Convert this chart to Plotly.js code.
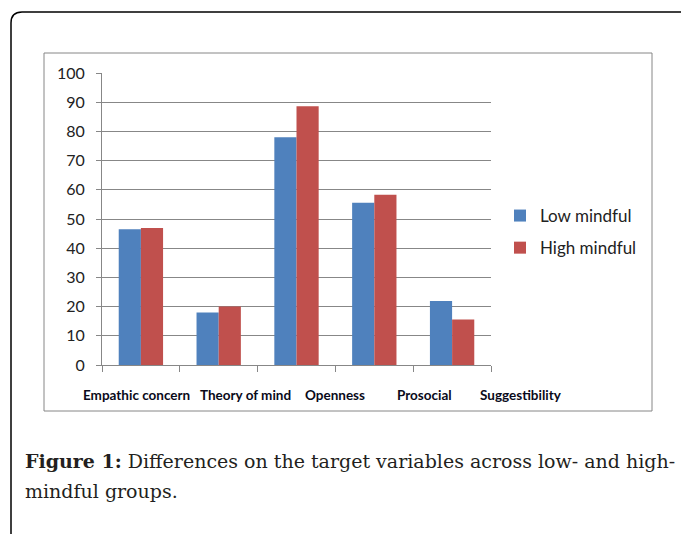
<!DOCTYPE html>
<html>
<head>
<meta charset="utf-8">
<script src="https://cdn.plot.ly/plotly-3.0.1.min.js"></script>
<style>
  html, body { margin: 0; padding: 0; background: #fff; }
  #chart { width: 681px; height: 534px; }
</style>
</head>
<body>
<div id="chart"></div>
<script>
// ---- data ----
const categories = ['Empathic concern', 'Theory of mind', 'Openness', 'Prosocial', 'Suggestibility'];
const lowMindful = [46.5, 18, 78, 55.6, 21.9];
const highMindful = [46.9, 20, 88.6, 58.3, 15.6];
const seriesNames = ['Low mindful', 'High mindful'];
const yTicks = [0, 10, 20, 30, 40, 50, 60, 70, 80, 90, 100];
const captionBold = 'Figure 1:';
const captionLine1 = ' Differences on the target variables across low- and high-';
const captionLine2 = 'mindful groups.';

// ---- layout helpers (pixel -> paper) ----
const W = 681, H = 534;
const M = { l: 102, r: 190, t: 73, b: 169 };
const PW = W - M.l - M.r, PH = H - M.t - M.b;
const px = x => (x - M.l) / PW;
const py = y => (H - M.b - y) / PH;

// label horizontal offsets (positioning only) relative to category index
const labelShift = [-0.06, 0.35, 0.49, 0.64, 0.89];

const gridColor = '#878787';
const labelFont = 'Lato, "Open Sans", sans-serif';

const traces = [
  { type: 'bar', name: seriesNames[0], x: categories, y: lowMindful,
    marker: { color: '#4F81BD' }, legendgroup: 'a' },
  { type: 'bar', name: seriesNames[1], x: categories, y: highMindful,
    marker: { color: '#C0504D' }, legendgroup: 'b' }
];

const nCat = categories.length;
const annotations = categories.map((c, i) => ({
  x: (i + 0.5 + labelShift[i]) / nCat, xref: 'paper', y: py(395), yref: 'paper',
  text: '<b>' + c + '</b>', showarrow: false, xanchor: 'center', yanchor: 'middle',
  font: { family: labelFont, size: 13.5, color: '#0a0a1a' }
}));
annotations.push({
  x: px(23), xref: 'paper', y: py(461), yref: 'paper', xanchor: 'left', yanchor: 'middle',
  showarrow: false, align: 'left',
  text: '<b>' + captionBold + '</b>' + captionLine1,
  font: { family: '"DejaVu Serif", serif', size: 19, color: '#231f20' }
});
annotations.push({
  x: px(23), xref: 'paper', y: py(491), yref: 'paper', xanchor: 'left', yanchor: 'middle',
  showarrow: false, align: 'left', text: captionLine2,
  font: { family: '"DejaVu Serif", serif', size: 19, color: '#231f20' }
});

const shapes = [
  // outer frame with rounded top-left corner
  { type: 'path', xref: 'paper', yref: 'paper',
    path: `M ${px(11)},${py(540)} L ${px(11)},${py(23)} Q ${px(11)},${py(12)} ${px(22)},${py(12)} L ${px(690)},${py(12)}`,
    line: { color: '#000', width: 1.5 } },
  // inner chart-area border
  { type: 'rect', xref: 'paper', yref: 'paper',
    x0: px(44), x1: px(652), y0: py(411), y1: py(53),
    line: { color: '#868686', width: 1 } }
];

const layout = {
  width: W, height: H,
  margin: M,
  paper_bgcolor: '#fff', plot_bgcolor: '#fff',
  barmode: 'group', bargap: 0.43, bargroupgap: 0,
  showlegend: true,
  legend: {
    x: px(500), xanchor: 'left', y: py(232), yanchor: 'middle',
    traceorder: 'grouped', tracegroupgap: 7,
    font: { family: labelFont, size: 17, color: '#222' },
    bgcolor: 'rgba(0,0,0,0)'
  },
  xaxis: {
    type: 'category', range: [-0.5, 4.5], tickson: 'boundaries',
    showticklabels: false, ticks: 'outside', ticklen: 6, tickcolor: gridColor,
    showline: true, linecolor: gridColor, linewidth: 1, showgrid: false,
    fixedrange: true
  },
  yaxis: {
    range: [0, 100], tickmode: 'array', tickvals: yTicks,
    ticks: 'outside', ticklen: 5, tickcolor: gridColor, ticklabelstandoff: 8,
    showline: true, linecolor: gridColor, linewidth: 1,
    showgrid: true, gridcolor: gridColor, gridwidth: 1, zeroline: false,
    tickfont: { family: labelFont, size: 16, color: '#222' },
    fixedrange: true
  },
  annotations: annotations,
  shapes: shapes
};

Plotly.newPlot('chart', traces, layout, { displayModeBar: false, staticPlot: true });
</script>
</body>
</html>
